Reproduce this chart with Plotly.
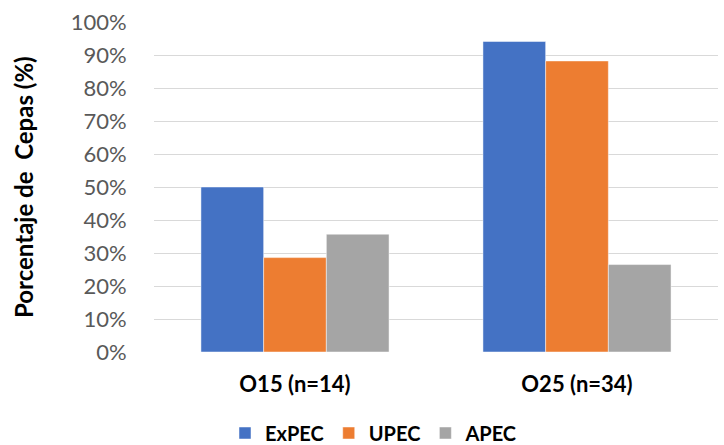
import plotly.graph_objects as go

categories = ["O15 (n=14)", "O25 (n=34)"]
series_names = ["ExPEC", "UPEC", "APEC"]
expec = [50.0, 94.1]
upec = [28.6, 88.2]
apec = [35.7, 26.5]
colors = ["#4472C4", "#ED7D31", "#A5A5A5"]
y_ticks = list(range(0, 101, 10))
y_tick_labels = [f"{v}%" for v in y_ticks]

FONT = "Lato, 'Open Sans', sans-serif"

fig = go.Figure()
for name, vals, col in zip(series_names, [expec, upec, apec], colors):
    fig.add_trace(go.Bar(
        x=categories, y=vals, name=name,
        marker=dict(color=col, line=dict(color="rgba(255,255,255,0.6)", width=0.8)),
    ))

fig.update_layout(
    width=724, height=445,
    margin=dict(l=154, r=6, t=22, b=93, autoexpand=False),
    paper_bgcolor="white", plot_bgcolor="white",
    barmode="group", bargap=0.333, bargroupgap=0,
    font=dict(family=FONT, size=16, color="#595959"),
    showlegend=True,
    legend=dict(
        orientation="h", xref="container", yref="container",
        x=374 / 724, xanchor="center", y=1 - 433 / 445, yanchor="middle",
        font=dict(family=FONT, size=20, color="#000000", weight="bold"),
        itemwidth=30, traceorder="normal",
    ),
)
fig.update_xaxes(
    showgrid=False, showline=False, zeroline=False,
    ticks="outside", ticklen=13, tickcolor="rgba(0,0,0,0)",
    tickfont=dict(family=FONT, size=22, color="#000000", weight="bold"),
)
fig.update_yaxes(
    range=[0, 100], tickvals=y_ticks, ticktext=y_tick_labels,
    showgrid=True, gridcolor="#D9D9D9", gridwidth=1.3,
    zeroline=False, showline=False,
    ticks="outside", ticklen=22, tickcolor="rgba(0,0,0,0)",
    tickfont=dict(family=FONT, size=22, color="#595959"),
)
fig.add_annotation(
    text="Porcentaje de  Cepas (%)", textangle=-90,
    xref="paper", yref="paper", x=(23 - 154) / 564, y=0.5,
    xanchor="center", yanchor="middle", showarrow=False,
    font=dict(family=FONT, size=24, color="#000000", weight="bold"),
)

fig.write_html("out.html")
